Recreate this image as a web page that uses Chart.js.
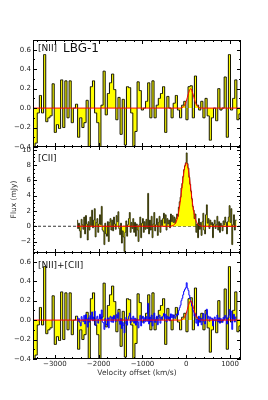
<!DOCTYPE html>
<html>
<head>
<meta charset="utf-8">
<script src="https://cdn.jsdelivr.net/npm/chart.js@4.4.0/dist/chart.umd.min.js"></script>
<style>
  html, body { margin: 0; padding: 0; background: #fff; }
  #wrap { position: relative; width: 268px; height: 400px; }
  canvas { position: absolute; left: 0; top: 0; }
</style>
</head>
<body>
<div id="wrap">
  <canvas id="nii" width="268" height="400"></canvas>
  <canvas id="cii" width="268" height="400"></canvas>
  <canvas id="both" width="268" height="400"></canvas>
</div>
<script>
// [NII] spectrum (mJy), channels from -3500 km/s
const niiStart = -3500;
const niiStep = 48.5;
const niiFlux = [
  -0.42, -0.36, -0.05, 0.13, -0.05, 0.55, -0.14, -0.10, -0.08, 0.25,
  -0.25, -0.17, -0.21, 0.29, -0.20, 0.28, -0.10, 0.28, -0.15, 0.00,
  0.04, -0.30, -0.10, -0.20, -0.15, 0.08, -0.42, 0.22, 0.28, -0.05,
  -0.15, -0.40, 0.03, 0.38, -0.07, 0.15, 0.26, 0.35, 0.19, -0.12,
  0.11, -0.27, 0.09, -0.38,
  0.22, 0.21, -0.05, -0.40, -0.24, 0.27, 0.18, -0.02, 0.00, 0.07,
  0.26, -0.10, 0.28, -0.10, 0.03, 0.10, 0.15, 0.22, -0.25, 0.12,
  0.00, -0.10, 0.05, 0.13, -0.02, -0.10, 0.03, 0.07, -0.12, 0.22,
  0.23, -0.10, 0.33, 0.03, -0.02, 0.07, -0.10, 0.10, -0.08, -0.33,
  -0.10, 0.00, -0.13, 0.20, -0.02, 0.00, 0.32, -0.30, 0.55, -0.02,
  0.10, 0.29, -0.12, -0.06
];

// [CII] spectrum (mJy), channels from -2500 km/s
const ciiStart = -2500;
const ciiStep = 20;
const ciiFlux = [
  0.8, -0.3, 0.4, -0.6, -1.5, 0.9, 0.2, -0.4, 1.2, -1.0,
  1.4, 0.3, -1.8, 0.6, -0.5, 1.2, 0.1, 2.1, -0.2, 0.8,
  2.3, -1.4, 0.5, 1.0, -0.8, 0.3, 1.5, 0.2, 2.6, -0.5,
  -0.7, -2.4, 0.4, -1.0, -1.3, 0.6, -2.0, 0.5, 1.0, -0.5,
  0.8, -0.6, 1.2, 0.3, -0.4, 1.4, 0.6, 1.9, -0.3, -1.1,
  0.4, -2.2, -0.6, -1.4, -3.3, -0.8, 0.7, -1.3, 0.2, 1.0,
  1.8, -0.8, 0.5, -0.3, 1.0, -0.8, 0.5, -1.3, 0.3, -0.5,
  -2.0, 0.2, 1.2, -1.5, 0.4, 1.0, -0.8, 0.6, -0.4, 0.9,
  -0.3, 4.3, -1.0, 0.8, -0.5, 1.3, -1.5, 0.3, 1.8, -0.6,
  0.2, 1.0, -1.2, 0.5, 1.3, -0.8, 0.8, 0.1, 1.0, 1.7,
  0.4, 1.5, -0.5, 1.0, 0.3, 0.8, -0.2, 1.6, 0.6, 1.4,
  0.5, 1.2, 0.4, 1.0, 1.6, 1.3, 2.5, 3.2, 3.8, 5.0,
  5.6, 6.5, 7.4, 7.9, 8.3, 9.6, 8.2, 7.6, 6.4, 5.5,
  4.6, 3.6, 2.6, 2.1, 1.0, 1.6, -0.8, 0.3, -1.5, 1.0,
  -0.4, 0.5, -1.2, 0.6, 1.7, -0.5, -1.0, 1.5, 2.8, 0.4,
  1.0, -0.3, 0.8, 0.2, 0.5, -1.5, 0.3, 0.8, -0.3, 0.2,
  1.3, -0.5, 0.6, -0.8, 0.4, 0.1, -0.6, 0.7, 0.2, 1.2,
  0.5, -1.0, 0.6, 1.2, 2.7, 0.5, 2.3, -2.4, 0.2, 1.5,
  -0.5, 0.8, 0.8
];
// [CII] drawn again in the bottom panel, scaled to the [NII] flux
const ciiScale = 0.04;

// gaussian fits
const niiFitV = [-3500, -150, -100, -50, 0, 50, 100, 150, 200, 250, 300, 350, 1250];
const niiFitF = [0, 0, 0.005, 0.02, 0.07, 0.15, 0.2, 0.15, 0.07, 0.02, 0.005, 0, 0];
const ciiFitV = [-2500, -400, -300, -250, -200, -150, -100, -50, 0, 50, 100, 150, 200, 250, 300, 400, 1150];
const ciiFitF = [0, 0, 0.1, 0.4, 1.1, 2.7, 5.0, 7.3, 8.3, 7.3, 5.0, 2.7, 1.1, 0.4, 0.1, 0, 0];

// axes
const velMin = -3500;
const velMax = 1250;
const velTicks = [-3000, -2000, -1000, 0, 1000];
const niiTicks = [-0.4, -0.2, 0.0, 0.2, 0.4, 0.6];
const ciiTicks = [-2, 0, 2, 4, 6, 8, 10];

Chart.defaults.font.family = 'DejaVu Sans';
Chart.defaults.color = '#262626';
Chart.defaults.elements.point.radius = 0;

function channels(flux, start, step, scale) {
    return flux.map((f, i) => ({ x: start + (i + 0.5) * step, y: f * (scale || 1) }));
}

function curve(vs, fs) {
    return vs.map((v, i) => ({ x: v, y: fs[i] }));
}

function fmt(v, dec) {
    return v.toFixed(dec).replace('-', '\u2212');
}

function fixedTicks(values) {
    return s => { s.ticks = values.map(v => ({ value: v })); };
}

function tickLoop(scale, minor, major, draw) {
    const first = Math.ceil(scale.min / minor - 1e-9);
    const last = Math.floor(scale.max / minor + 1e-9);
    for (let k = first; k <= last; k++) {
        const v = k * minor;
        const r = v / major;
        const isMajor = Math.abs(r - Math.round(r)) < 1e-6;
        draw(scale.getPixelForValue(v), isMajor ? 4 : 2);
    }
}

// box, inward ticks on all four sides, panel labels
const framePlugin = {
    id: 'frame',
    afterDatasetsDraw(chart, args, opts) {
        const { ctx, chartArea: a, scales } = chart;
        ctx.save();
        ctx.strokeStyle = '#000';
        ctx.lineWidth = 1;
        ctx.beginPath();
        tickLoop(scales.x, opts.xMinor, opts.xMajor, (p, len) => {
            const px = Math.round(p) + 0.5;
            ctx.moveTo(px, a.top);
            ctx.lineTo(px, a.top + len);
            ctx.moveTo(px, a.bottom);
            ctx.lineTo(px, a.bottom - len);
        });
        tickLoop(scales.y, opts.yMinor, opts.yMajor, (p, len) => {
            const py = Math.round(p) + 0.5;
            ctx.moveTo(a.left, py);
            ctx.lineTo(a.left + len, py);
            ctx.moveTo(a.right, py);
            ctx.lineTo(a.right - len, py);
        });
        ctx.stroke();
        ctx.strokeRect(a.left + 0.5, a.top + 0.5, a.right - a.left - 1, a.bottom - a.top - 1);

        ctx.fillStyle = '#111';
        ctx.textBaseline = 'middle';
        ctx.textAlign = 'left';
        for (const t of opts.texts) {
            ctx.font = t.size + 'px "DejaVu Sans"';
            ctx.fillText(t.text, t.x, t.y);
        }
        ctx.restore();
    }
};

function panelOptions(p) {
    return {
        responsive: false,
        animation: false,
        events: [],
        layout: { padding: { top: p.top, bottom: p.bottom, left: 0, right: 27 } },
        plugins: {
            legend: { display: false },
            tooltip: { enabled: false },
            frame: p.frame
        },
        scales: {
            x: p.x,
            y: {
                type: 'linear',
                min: p.yMin,
                max: p.yMax,
                afterFit: s => { s.width = 33; },
                afterBuildTicks: fixedTicks(p.yTicks),
                grid: { display: false, drawTicks: false },
                border: { display: false },
                title: p.yTitle || { display: false },
                ticks: {
                    padding: 2,
                    font: { size: 7 },
                    callback: v => fmt(v, p.yDec)
                }
            }
        }
    };
}

const hiddenX = { type: 'linear', min: velMin, max: velMax, display: false };

// top panel: [NII]
new Chart(document.getElementById('nii'), {
    type: 'line',
    data: {
        datasets: [
            { data: curve(niiFitV, niiFitF), borderColor: '#ff0000', borderWidth: 1, cubicInterpolationMode: 'monotone', order: 0 },
            { data: channels(niiFlux, niiStart, niiStep), stepped: 'middle', fill: 'origin',
              backgroundColor: '#ffff00', borderColor: '#141400', borderWidth: 1, order: 1 }
        ]
    },
    options: panelOptions({
        top: 40, bottom: 400 - 147, yMin: -0.4, yMax: 0.7, yTicks: niiTicks, yDec: 1,
        x: hiddenX,
        frame: { xMinor: 200, xMajor: 1000, yMinor: 0.1, yMajor: 0.2,
                 texts: [{ text: '[NII]', x: 38, y: 49, size: 9 }, { text: 'LBG-1', x: 63, y: 48.5, size: 12 }] }
    }),
    plugins: [framePlugin]
});

// middle panel: [CII]
new Chart(document.getElementById('cii'), {
    type: 'line',
    data: {
        datasets: [
            { data: curve(ciiFitV, ciiFitF), borderColor: '#ff0000', borderWidth: 1, cubicInterpolationMode: 'monotone', order: 0 },
            { data: channels(ciiFlux, ciiStart, ciiStep), stepped: 'middle', fill: 'origin',
              backgroundColor: '#ffff00', borderColor: '#1e1e00', borderWidth: 0.9, order: 1 },
            { data: curve([velMin, velMax], [0, 0]), borderColor: '#000', borderWidth: 0.8, borderDash: [3, 2], order: 2 }
        ]
    },
    options: panelOptions({
        top: 146, bottom: 400 - 253, yMin: -3.5, yMax: 10.5, yTicks: ciiTicks, yDec: 0,
        x: hiddenX,
        yTitle: { display: true, text: 'Flux (mJy)', color: '#333', font: { size: 7.5 }, padding: { top: 10, bottom: 0 } },
        frame: { xMinor: 200, xMajor: 1000, yMinor: 0.5, yMajor: 2,
                 texts: [{ text: '[CII]', x: 38, y: 159, size: 9 }] }
    }),
    plugins: [framePlugin]
});

// bottom panel: [NII] with scaled [CII]
new Chart(document.getElementById('both'), {
    type: 'line',
    data: {
        datasets: [
            { data: curve(niiFitV, niiFitF), borderColor: '#ff0000', borderWidth: 1, cubicInterpolationMode: 'monotone', order: 0 },
            { data: channels(ciiFlux, ciiStart, ciiStep, ciiScale), stepped: 'middle', borderColor: '#0000ff', borderWidth: 1, order: 1 },
            { data: channels(niiFlux, niiStart, niiStep), stepped: 'middle', fill: 'origin',
              backgroundColor: '#ffff00', borderColor: '#141400', borderWidth: 1, order: 2 }
        ]
    },
    options: panelOptions({
        top: 252, bottom: 22, yMin: -0.4, yMax: 0.7, yTicks: niiTicks, yDec: 1,
        x: {
            type: 'linear', min: velMin, max: velMax,
            afterFit: s => { s.height = 19; },
            afterBuildTicks: fixedTicks(velTicks),
            grid: { display: false, drawTicks: false },
            border: { display: false },
            title: { display: true, text: 'Velocity offset (km/s)', color: '#333', font: { size: 7.5 }, padding: { top: 0, bottom: 0 } },
            ticks: { padding: 1, maxRotation: 0, autoSkip: false, font: { size: 7 }, callback: v => fmt(v, 0) }
        },
        frame: { xMinor: 200, xMajor: 1000, yMinor: 0.1, yMajor: 0.2,
                 texts: [{ text: '[NII]+[CII]', x: 38, y: 266, size: 9 }] }
    }),
    plugins: [framePlugin]
});
</script>
</body>
</html>
